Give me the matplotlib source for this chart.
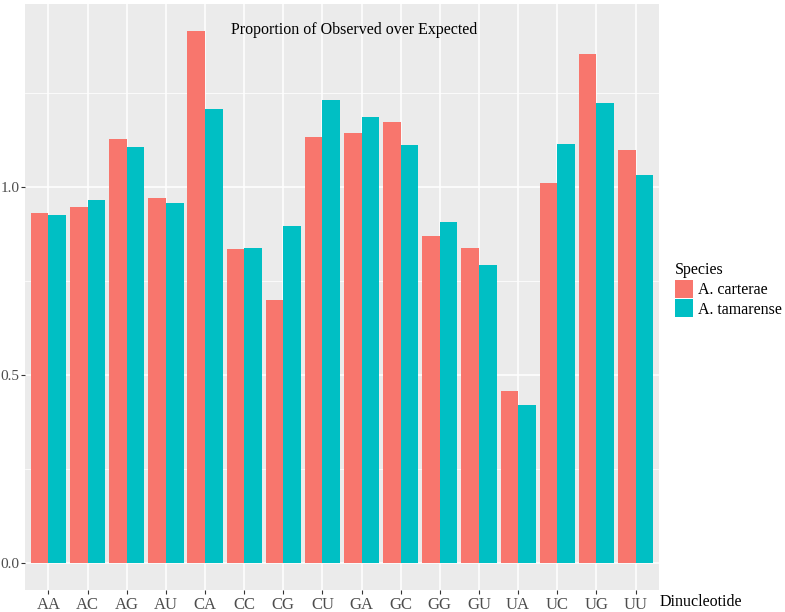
import numpy as np
import matplotlib
matplotlib.use('Agg')
import matplotlib.pyplot as plt
from matplotlib.patches import Patch
from matplotlib.ticker import MultipleLocator

plt.rcParams['font.family'] = ['Liberation Serif', 'DejaVu Serif']

dinucleotides = ['AA', 'AC', 'AG', 'AU', 'CA', 'CC', 'CG', 'CU',
                 'GA', 'GC', 'GG', 'GU', 'UA', 'UC', 'UG', 'UU']
carterae = [0.930, 0.947, 1.127, 0.972, 1.416, 0.836, 0.699, 1.132,
            1.145, 1.173, 0.871, 0.837, 0.457, 1.012, 1.353, 1.098]
tamarense = [0.927, 0.965, 1.106, 0.957, 1.209, 0.838, 0.897, 1.231,
             1.186, 1.111, 0.908, 0.794, 0.420, 1.116, 1.223, 1.032]
species = ['A. carterae', 'A. tamarense']
colours = ['#F8766D', '#00BFC4']

fig = plt.figure(figsize=(7.85, 6.12), dpi=100)
ax = fig.add_axes([25 / 785, 22 / 612, 634 / 785, 586 / 612])
ax.set_facecolor('#EBEBEB')

x = np.arange(len(dinucleotides))
w = 0.45
ax.bar(x - w / 2, carterae, width=w, color=colours[0], zorder=3)
ax.bar(x + w / 2, tamarense, width=w, color=colours[1], zorder=3)

top = max(max(carterae), max(tamarense))
pad = top * 0.05
ax.set_ylim(-pad, top + pad)
ax.set_xlim(-0.6, len(dinucleotides) - 0.4)

ax.set_xticks(x)
ax.set_xticklabels(dinucleotides)
ax.yaxis.set_major_locator(MultipleLocator(0.5))
ax.yaxis.set_minor_locator(MultipleLocator(0.25))
ax.yaxis.set_major_formatter(lambda v, p: f'{v:.1f}')

ax.grid(True, which='major', color='white', linewidth=1.1, zorder=0)
ax.grid(True, which='minor', axis='y', color='white', linewidth=0.55, zorder=0)
ax.set_axisbelow(True)
for s in ax.spines.values():
    s.set_visible(False)
ax.tick_params(axis='x', which='major', length=3, color='#333333',
               labelsize=12, labelcolor='#4D4D4D', pad=2)
ax.tick_params(axis='y', which='major', length=3, color='#333333',
               labelsize=11, labelcolor='#4D4D4D', pad=1)
ax.tick_params(axis='y', which='minor', length=0)

ax.text(7.8, 1.417, 'Proportion of Observed over Expected', ha='center', va='center',
        fontsize=11.5, color='black', zorder=5)

fig.text(660 / 785, 1 - 602 / 612, 'Dinucleotide', ha='left', va='center', fontsize=11.5)

handles = [Patch(facecolor=c, edgecolor='none') for c in colours]
leg = fig.legend(handles, species, title='Species', loc='upper left',
                 bbox_to_anchor=(675 / 785, 1 - 262 / 612), frameon=False,
                 prop={'family': 'Liberation Serif', 'size': 11.5},
                 title_fontproperties={'family': 'Liberation Serif', 'size': 11.5},
                 handlelength=1.15, handleheight=1.35, handletextpad=0.3,
                 labelspacing=0.1, borderaxespad=0, borderpad=0)
leg._legend_box.align = 'left'

fig.savefig('out.png', dpi=100)
